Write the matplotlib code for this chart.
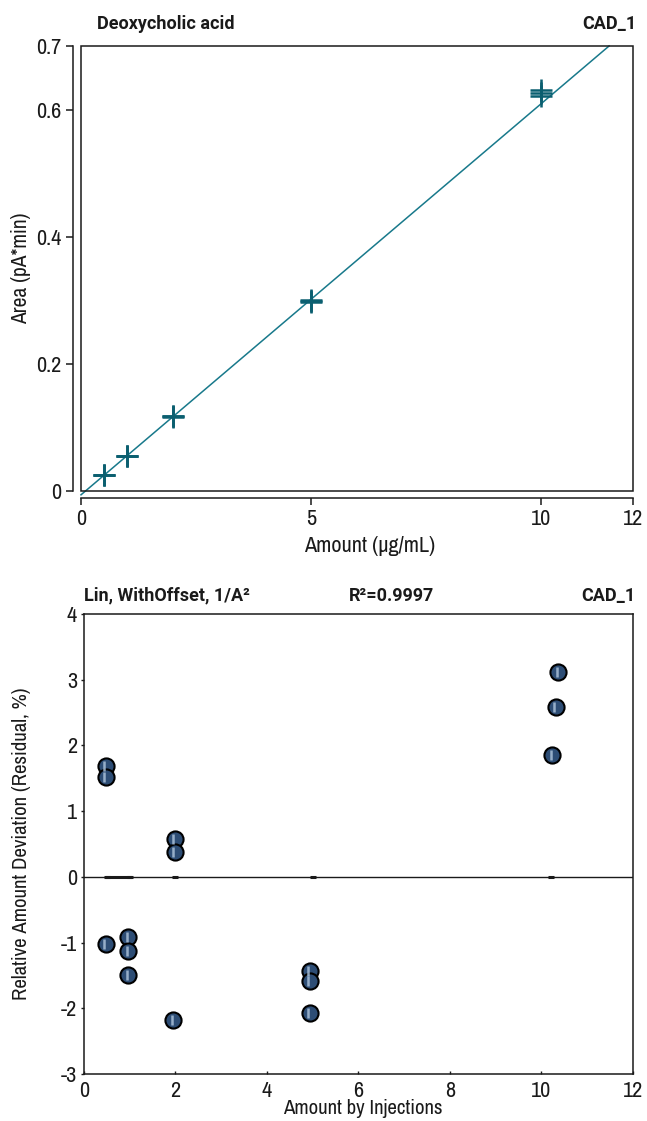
import matplotlib
matplotlib.use("Agg")
import matplotlib.pyplot as plt
from matplotlib import font_manager
from matplotlib.patches import Rectangle
from matplotlib.transforms import ScaledTranslation

# calibration data (top panel)
AMOUNT = [0.5, 0.5, 0.5, 1.0, 1.0, 1.0, 2.0, 2.0, 2.0, 5.0, 5.0, 5.0, 10.0, 10.0, 10.0]
AREA = [0.0247, 0.0254, 0.0256, 0.0549, 0.0553, 0.0557, 0.1165, 0.1178, 0.1181,
        0.2980, 0.2990, 0.3005, 0.6215, 0.6265, 0.6315]
FIT_X = [0.0, 11.48]
FIT_Y = [-0.006, 0.700]

# residual data (bottom panel)
RES_X = [0.48, 0.48, 0.48, 0.97, 0.97, 0.97, 1.99, 1.99, 1.95,
         4.94, 4.94, 4.94, 10.24, 10.32, 10.37]
RES_Y = [1.69, 1.52, -1.02, -0.92, -1.13, -1.49, 0.58, 0.38, -2.18,
         -1.44, -1.59, -2.07, 1.86, 2.59, 3.12]
LEVELS = [0.5, 1.0, 2.0, 5.0, 10.2]

TEAL = "#18798b"
TEAL_DARK = "#0b5f70"
INK = "#1a1a1a"

# prefer a narrow face if one is installed
narrow = [f.name for f in font_manager.fontManager.ttflist if "Narrow" in f.name]
FONT = [narrow[0], "DejaVu Sans"] if narrow else ["Roboto", "DejaVu Sans"]
BOLD = ["Roboto", "DejaVu Sans"]

plt.rcParams["font.family"] = FONT
plt.rcParams["axes.linewidth"] = 1.1
plt.rcParams["axes.unicode_minus"] = False

TICK_FS = 16
LABEL_FS = 15
TITLE_FS = 13

fig = plt.figure(figsize=(6.47, 11.21), dpi=100)

# ---- top: calibration curve
ax1 = fig.add_axes([0.1252, 0.5620, 0.8532, 0.3970])
ax1.set_xlim(0, 12)
ax1.set_ylim(0, 0.7)
ax1.plot(FIT_X, FIT_Y, color=TEAL, lw=1.1, zorder=2, clip_on=False)
ax1.plot(AMOUNT, AREA, ls="none", marker="+", ms=16, mew=1.8, color=TEAL_DARK, zorder=3)
ax1.add_patch(Rectangle((0, 0), 1, 1, transform=ax1.transAxes, fill=False,
                        lw=1.1, edgecolor=INK, zorder=4, clip_on=False))
for s in ("top", "right"):
    ax1.spines[s].set_visible(False)
ax1.spines["left"].set_position(("outward", 6))
ax1.spines["bottom"].set_position(("outward", 5))
ax1.spines["left"].set_color(INK)
ax1.spines["bottom"].set_color(INK)
ax1.set_yticks([0, 0.2, 0.4, 0.6, 0.7])
ax1.set_yticklabels(["0", "0.2", "0.4", "0.6", "0.7"])
ax1.set_xticks([0, 5, 10, 12])
ax1.tick_params(axis="both", direction="out", length=5, width=1.1, labelsize=TICK_FS,
                colors=INK, pad=3)
ax1.set_xlabel("Amount (µg/mL)", fontsize=LABEL_FS + 1, color=INK)
ax1.set_ylabel("Area (pA*min)", fontsize=LABEL_FS + 0.5, color=INK)
ax1.xaxis.set_label_coords(0.5236, -0.100)
ax1.yaxis.set_label_coords(-0.090, 0.5)
fig.text(0.150, 0.9786, "Deoxycholic acid", fontsize=TITLE_FS, fontweight="bold",
         family=BOLD, ha="left", va="center", color=INK)
fig.text(0.983, 0.9786, "CAD_1", fontsize=TITLE_FS, fontweight="bold",
         family=BOLD, ha="right", va="center", color=INK)

# ---- bottom: residuals
ax2 = fig.add_axes([0.1298, 0.04192, 0.8485, 0.4104])
ax2.set_xlim(0, 12)
ax2.set_ylim(-3, 4)
ax2.axhline(0, color=INK, lw=1.0, zorder=1)
ax2.plot([LEVELS[0], LEVELS[1]], [0, 0], color=INK, lw=2.2, zorder=1)
ax2.plot(LEVELS, [0] * len(LEVELS), ls="none", marker="_", ms=4, mew=2.2,
         color=INK, zorder=1)
ax2.scatter(RES_X, RES_Y, s=135, c="#2d4d75", edgecolors="black",
            linewidths=1.5, zorder=3)
shift = ax2.transData + ScaledTranslation(-1.2 / 72, 0, fig.dpi_scale_trans)
ax2.scatter(RES_X, RES_Y, s=60, marker="|", c="#a9c0d8", linewidths=1.8,
            alpha=0.85, zorder=4, transform=shift)
for s in ax2.spines.values():
    s.set_color(INK)
ax2.set_xticks([0, 2, 4, 6, 8, 10, 12])
ax2.set_yticks(range(-3, 5))
ax2.tick_params(axis="y", direction="out", length=2, width=1, labelsize=TICK_FS,
                colors=INK, pad=3)
ax2.tick_params(axis="x", direction="in", length=2, width=1, labelsize=TICK_FS,
                colors=INK, pad=5)
ax2.set_xlabel("Amount by Injections", fontsize=LABEL_FS, color=INK)
ax2.set_ylabel("Relative Amount Deviation (Residual, %)", fontsize=LABEL_FS, color=INK)
ax2.xaxis.set_label_coords(0.508, -0.054)
ax2.yaxis.set_label_coords(-0.097, 0.5)
ax2.text(0.0, 1.02, "Lin, WithOffset, 1/A²", transform=ax2.transAxes,
         fontsize=TITLE_FS, fontweight="bold", family=BOLD,
         ha="left", va="bottom", color=INK)
ax2.text(0.56, 1.02, "R²=0.9997", transform=ax2.transAxes,
         fontsize=TITLE_FS, fontweight="bold", family=BOLD,
         ha="center", va="bottom", color=INK)
ax2.text(1.005, 1.02, "CAD_1", transform=ax2.transAxes,
         fontsize=TITLE_FS, fontweight="bold", family=BOLD,
         ha="right", va="bottom", color=INK)

fig.savefig("out.png", dpi=100, facecolor="white")
